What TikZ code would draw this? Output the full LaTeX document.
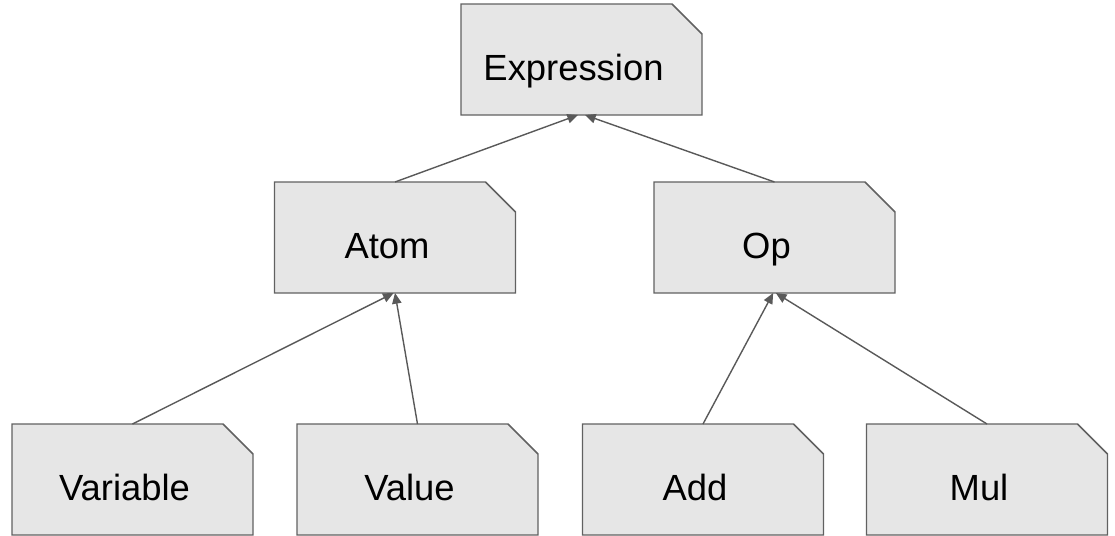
\documentclass[tikz,border=0pt]{standalone}
\usepackage{fontspec}
\setmainfont{Liberation Sans}
\usetikzlibrary{arrows.meta,backgrounds}

\definecolor{boxfill}{HTML}{E6E6E6}
\definecolor{boxline}{HTML}{616161}
\definecolor{arrowline}{HTML}{595959}

\tikzset{
  % plain frame node; the chamfered outline is drawn afterwards on the background
  classbox/.style={rectangle, draw=none, fill=none, inner sep=0pt, outer sep=0pt,
    minimum width=180.75pt, minimum height=83.25pt},
  classlabel/.style={inner sep=0pt, anchor=base, font=\fontsize{27.3}{32}\selectfont, text=black},
  outline/.style={draw=boxline, fill=boxfill, line width=1.1pt, line join=miter},
  inherit/.style={draw=arrowline, line width=1.05pt,
    -{Triangle[length=8pt,width=7pt]}},
}

\begin{document}
\begin{tikzpicture}[x=0.75pt,y=-0.75pt]
  \useasboundingbox (0,0) rectangle (1115,536);

  % class frames
  \node[classbox] (ex)   at (581.5,59.5)  {};
  \node[classbox] (atom) at (395,237.5)   {};
  \node[classbox] (op)   at (774.5,237.5) {};
  \node[classbox] (var)  at (132.5,479.5) {};
  \node[classbox] (val)  at (417.5,479.5) {};
  \node[classbox] (add)  at (703,479.5)   {};
  \node[classbox] (mul)  at (987,479.5)   {};

  % chamfered outlines behind the labels
  \begin{scope}[on background layer]
    \foreach \n in {ex,atom,op,var,val,add,mul}
      \draw[outline] (\n.south west) -- (\n.north west)
        -- ([xshift=-22.5pt]\n.north east) -- ([yshift=-22.5pt]\n.north east)
        -- (\n.south east) -- cycle;
  \end{scope}

  % class names on a common baseline, a little left of the frame centre
  \node[classlabel] (ex-l)   at ([xshift=-6pt,yshift=-15.9pt]ex.center)   {Expression};
  \node[classlabel] (atom-l) at ([xshift=-6pt,yshift=-15.6pt]atom.center) {Atom};
  \node[classlabel] (op-l)   at ([xshift=-6pt,yshift=-15.6pt]op.center)   {Op};
  \node[classlabel] (var-l)  at ([xshift=-6pt,yshift=-15.6pt]var.center)  {Variable};
  \node[classlabel] (val-l)  at ([xshift=-6pt,yshift=-15.6pt]val.center)  {Value};
  \node[classlabel] (add-l)  at ([xshift=-6pt,yshift=-15.6pt]add.center)  {Add};
  \node[classlabel] (mul-l)  at ([xshift=-6pt,yshift=-15.6pt]mul.center)  {Mul};

  % inheritance arrows
  \draw[inherit] (atom.north) -- ([xshift=-2.6pt]ex.south);
  \draw[inherit] (op.north)   -- ([xshift=2.6pt]ex.south);
  \draw[inherit] (var.north)  -- ([xshift=-1pt]atom.south);
  \draw[inherit] (val.north)  -- (atom.south);
  \draw[inherit] (add.north)  -- ([xshift=-1pt]op.south);
  \draw[inherit] (mul.north)  -- ([xshift=1pt]op.south);
\end{tikzpicture}
\end{document}
